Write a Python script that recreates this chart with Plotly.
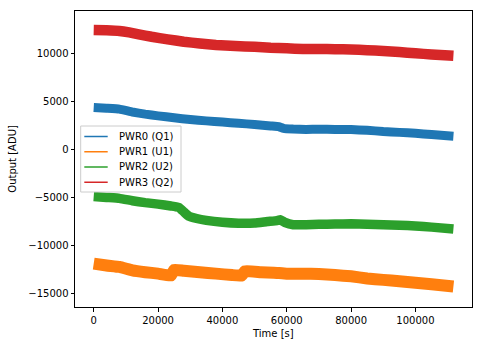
import plotly.graph_objects as go

# Detector output per channel over the run (trend of each noisy band)
pwr0_t = [0, 4000, 8000, 12000, 16000, 20000, 25000, 30000, 35000, 40000, 45000, 50000, 55000,
          57500, 59000, 62000, 66000, 70000, 75000, 80000, 85000, 90000, 95000, 100000, 105000, 111800]
pwr0_v = [4380, 4300, 4200, 3900, 3680, 3500, 3300, 3120, 2980, 2850, 2730, 2600, 2450,
          2380, 2200, 2120, 2080, 2110, 2090, 2070, 2000, 1870, 1780, 1680, 1550, 1380]

pwr1_t = [0, 4000, 8000, 12000, 16000, 20000, 24000, 25000, 28000, 33000, 38000, 43000, 46000,
          47000, 52000, 56000, 60000, 65000, 70000, 75000, 80000, 85000, 90000, 95000, 100000, 105000, 111800]
pwr1_v = [-11900, -12100, -12250, -12600, -12800, -12950, -13150, -12550, -12650, -12800, -12950, -13100, -13150,
          -12700, -12800, -12850, -12950, -12950, -13000, -13100, -13230, -13450, -13600, -13750, -13900, -14050, -14300]

pwr2_t = [0, 4000, 8000, 12000, 16000, 20000, 24000, 26500, 28000, 29500, 32000, 35000, 40000, 45000,
          50000, 54000, 57000, 58000, 59500, 62000, 66000, 70000, 75000, 80000, 85000, 90000, 95000,
          100000, 105000, 111800]
pwr2_v = [-4900, -5000, -5100, -5350, -5550, -5700, -5900, -6050, -6500, -6950, -7200, -7400, -7600, -7700,
          -7680, -7520, -7420, -7330, -7620, -7850, -7850, -7800, -7780, -7750, -7800, -7850, -7900,
          -7980, -8100, -8300]

pwr3_t = [0, 4000, 8000, 11000, 14000, 18000, 23000, 28000, 33000, 38000, 44000, 50000, 55000, 60000,
          65000, 70000, 75000, 80000, 85000, 90000, 95000, 100000, 105000, 111800]
pwr3_v = [12450, 12420, 12350, 12200, 12000, 11750, 11480, 11230, 11050, 10900, 10780, 10700, 10600, 10540,
          10480, 10470, 10460, 10430, 10350, 10260, 10150, 10030, 9900, 9760]

series_names = ["PWR0 (Q1)", "PWR1 (U1)", "PWR2 (U2)", "PWR3 (Q2)"]
colors = ["#1f77b4", "#ff7f0e", "#2ca02c", "#d62728"]
band_widths = [9, 12, 9.5, 10.5]

x_ticks = [0, 20000, 40000, 60000, 80000, 100000]
y_ticks = [-15000, -10000, -5000, 0, 5000, 10000]

FONT = "DejaVu Sans"

fig = go.Figure()
for t, v, name, c, w in zip([pwr0_t, pwr1_t, pwr2_t, pwr3_t],
                            [pwr0_v, pwr1_v, pwr2_v, pwr3_v],
                            series_names, colors, band_widths):
    fig.add_trace(go.Scatter(x=t, y=v, mode="lines", name=name,
                             line=dict(color=c, width=w, shape="spline", smoothing=0.3),
                             showlegend=False))

axis_common = dict(showline=True, mirror=True, linecolor="black", linewidth=1,
                   ticks="outside", ticklen=3.5, tickwidth=0.8, tickcolor="black",
                   showgrid=False, zeroline=False,
                   tickfont=dict(family=FONT, size=10, color="black"))

fig.update_xaxes(range=[-5816, 117574], tickvals=x_ticks,
                 ticktext=[str(v) for v in x_ticks], **axis_common)
fig.update_yaxes(range=[-16430, 14436], tickvals=y_ticks,
                 ticktext=[str(v).replace("-", "\u2212") for v in y_ticks], **axis_common)

# Plot area geometry (pixels) used for the hand-drawn legend
W, H = 482, 347
ML, MR, MT, MB = 75, 10, 11, 40
PW, PH = W - ML - MR, H - MT - MB


def px(x):
    return (x - ML) / PW


def py(y):
    return (H - MB - y) / PH


shapes = [dict(type="rect", xref="paper", yref="paper",
               x0=px(80.7), x1=px(181), y0=py(192), y1=py(126),
               line=dict(color="#cccccc", width=1), fillcolor="rgba(255,255,255,0.8)", layer="above")]
annotations = []
for i, (name, c) in enumerate(zip(series_names, colors)):
    yy = 136.5 + 15.25 * i
    shapes.append(dict(type="line", xref="paper", yref="paper",
                       x0=px(84.3), x1=px(107.7), y0=py(yy), y1=py(yy),
                       line=dict(color=c, width=1.5), layer="above"))
    annotations.append(dict(xref="paper", yref="paper", x=px(116.5), y=py(yy),
                            text=name, showarrow=False, xanchor="left", yanchor="middle",
                            font=dict(family=FONT, size=10, color="black")))

annotations.append(dict(xref="paper", yref="paper", x=px(273), y=py(333.3), text="Time [s]",
                        showarrow=False, xanchor="center", yanchor="middle",
                        font=dict(family=FONT, size=10, color="black")))
annotations.append(dict(xref="paper", yref="paper", x=px(11.7), y=py(159), text="Output [ADU]",
                        showarrow=False, xanchor="center", yanchor="middle", textangle=-90,
                        font=dict(family=FONT, size=10, color="black")))

fig.update_layout(width=W, height=H, margin=dict(l=ML, r=MR, t=MT, b=MB),
                  paper_bgcolor="white", plot_bgcolor="white",
                  shapes=shapes, annotations=annotations,
                  font=dict(family=FONT, size=10, color="black"))

fig.write_html("out.html")
